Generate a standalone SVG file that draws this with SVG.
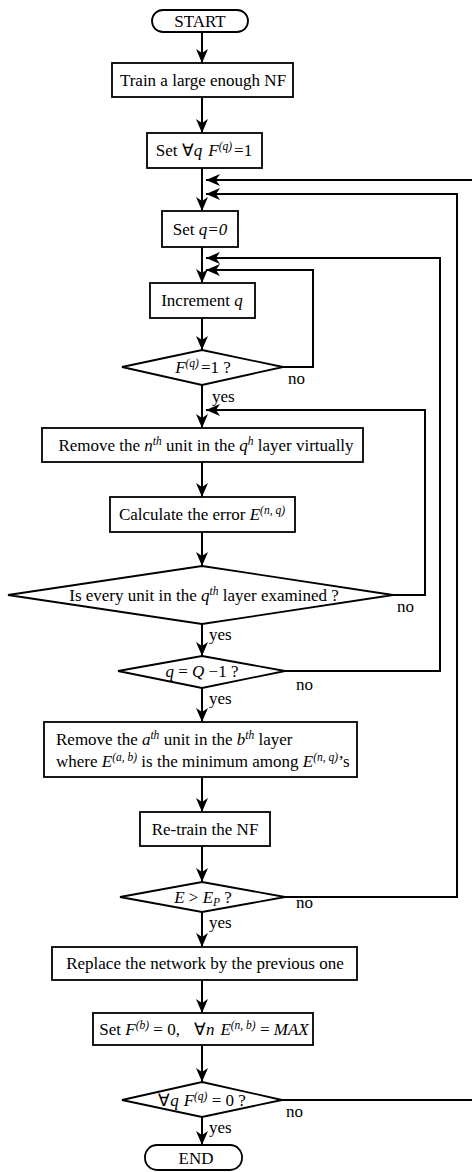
<svg xmlns="http://www.w3.org/2000/svg" width="472" height="1172" viewBox="0 0 472 1172">
<defs>
<marker id="ah" viewBox="0 0 14 12" refX="14" refY="6" markerWidth="14" markerHeight="12" markerUnits="userSpaceOnUse" orient="auto">
<path d="M0,0 L14,6 L0,12 L4,6 z" fill="#000"/>
</marker>
<style>
.box{fill:#fff;stroke:#000;stroke-width:1.8}
.t{font-family:"Liberation Serif","Times New Roman",serif;font-size:17px;fill:#000;text-anchor:middle}
.l{font-family:"Liberation Serif","Times New Roman",serif;font-size:17px;fill:#000}
.i{font-style:italic}
.s{font-size:11.5px;font-style:italic}
.c{fill:none;stroke:#000;stroke-width:2}
.a{fill:none;stroke:#000;stroke-width:2;marker-end:url(#ah)}
</style>
</defs>
<rect width="472" height="1172" fill="#fff"/>
<g id="connectors">
<line class="a" x1="202" y1="32" x2="202" y2="63"/>
<line class="a" x1="202" y1="97" x2="202" y2="133"/>
<line class="a" x1="202" y1="168" x2="202" y2="211"/>
<line class="a" x1="202" y1="247" x2="202" y2="283"/>
<line class="a" x1="202" y1="318" x2="202" y2="350"/>
<line class="a" x1="202" y1="385" x2="202" y2="428"/>
<line class="a" x1="202" y1="462" x2="202" y2="497"/>
<line class="a" x1="202" y1="532" x2="202" y2="566"/>
<line class="a" x1="202" y1="624" x2="202" y2="656"/>
<line class="a" x1="202" y1="688" x2="202" y2="722"/>
<line class="a" x1="202" y1="777" x2="202" y2="812"/>
<line class="a" x1="202" y1="846" x2="202" y2="882"/>
<line class="a" x1="202" y1="912" x2="202" y2="947"/>
<line class="a" x1="202" y1="980" x2="202" y2="1013"/>
<line class="a" x1="202" y1="1045" x2="202" y2="1082"/>
<line class="a" x1="202" y1="1117" x2="202" y2="1145"/>
<polyline class="a" points="283,367 313,367 313,270 206,270"/>
<polyline class="a" points="393,595 425,595 425,410 206,410"/>
<polyline class="a" points="285,671 440,671 440,258 206,258"/>
<polyline class="a" points="285,897 457,897 457,194 206,194"/>
<polyline class="a" points="282,1100 478,1100 478,180 206,180"/>
<text class="l" x="288" y="384">no</text>
<text class="l" x="212" y="402">yes</text>
<text class="l" x="397" y="612">no</text>
<text class="l" x="209" y="640">yes</text>
<text class="l" x="296" y="690">no</text>
<text class="l" x="209" y="704">yes</text>
<text class="l" x="296" y="908">no</text>
<text class="l" x="209" y="928">yes</text>
<text class="l" x="286" y="1117">no</text>
<text class="l" x="209" y="1133">yes</text>
</g>
<g id="start">
<rect class="box" x="152" y="10" width="96" height="22" rx="11"/>
<text class="t" x="200" y="27">START</text>
</g>
<g id="train">
<rect class="box" x="112" y="63" width="181" height="34"/>
<text class="t" x="203" y="86">Train a large enough NF</text>
</g>
<g id="setall">
<rect class="box" x="147" y="133" width="115" height="35"/>
<text class="t" x="204" y="156">Set ∀<tspan class="i">q</tspan><tspan class="i" dx="6">F</tspan><tspan class="s" dy="-6">(q)</tspan><tspan dy="6" dx="2">=1</tspan></text>
</g>
<g id="setq0">
<rect class="box" x="162" y="211" width="76" height="36"/>
<text class="t" x="200" y="235">Set <tspan class="i">q=0</tspan></text>
</g>
<g id="incq">
<rect class="box" x="150" y="283" width="105" height="35"/>
<text class="t" x="202" y="306">Increment <tspan class="i">q</tspan></text>
</g>
<g id="dq1">
<polygon class="box" points="202,350 283,367 202,385 122,367"/>
<text class="t" x="203" y="373"><tspan class="i">F</tspan><tspan class="s" dy="-6">(q)</tspan><tspan dy="6" dx="2">=1 ?</tspan></text>
</g>
<g id="removen">
<rect class="box" x="42" y="428" width="321" height="34"/>
<text class="t" x="206" y="451">Remove the <tspan class="i">n</tspan><tspan class="s" dy="-6">th</tspan><tspan dy="6"> unit in the </tspan><tspan class="i">q</tspan><tspan class="s" dy="-6">h</tspan><tspan dy="6"> layer virtually</tspan></text>
</g>
<g id="calc">
<rect class="box" x="110" y="497" width="185" height="35"/>
<text class="t" x="202" y="520">Calculate the error <tspan class="i">E</tspan><tspan class="s" dy="-6">(n, q)</tspan></text>
</g>
<g id="dexam">
<polygon class="box" points="202,566 393,595 202,624 8,595"/>
<text class="t" x="204" y="601">Is every unit in the <tspan class="i">q</tspan><tspan class="s" dy="-6">th</tspan><tspan dy="6"> layer examined ?</tspan></text>
</g>
<g id="dqQ">
<polygon class="box" points="202,656 285,671 202,688 118,671"/>
<text class="t" x="202" y="677"><tspan class="i">q</tspan> = <tspan class="i">Q</tspan> −1 ?</text>
</g>
<g id="removea">
<rect class="box" x="44" y="722" width="313" height="55"/>
<text class="l" x="56" y="745">Remove the <tspan class="i">a</tspan><tspan class="s" dy="-6">th</tspan><tspan dy="6"> unit in the </tspan><tspan class="i">b</tspan><tspan class="s" dy="-6">th</tspan><tspan dy="6"> layer</tspan></text>
<text class="l" x="56" y="767">where <tspan class="i">E</tspan><tspan class="s" dy="-6">(a, b)</tspan><tspan dy="6"> is the minimum among </tspan><tspan class="i">E</tspan><tspan class="s" dy="-6">(n, q)</tspan><tspan dy="6">’s</tspan></text>
</g>
<g id="retrain">
<rect class="box" x="140" y="812" width="130" height="34"/>
<text class="t" x="205" y="835">Re-train the NF</text>
</g>
<g id="dE">
<polygon class="box" points="202,882 285,897 202,912 120,897"/>
<text class="t" x="203" y="903"><tspan class="i">E</tspan> &gt; <tspan class="i">E</tspan><tspan class="s" dy="3">P</tspan><tspan dy="-3"> ?</tspan></text>
</g>
<g id="replace">
<rect class="box" x="52" y="947" width="305" height="33"/>
<text class="t" x="205" y="969">Replace the network by the previous one</text>
</g>
<g id="setfb">
<rect class="box" x="93" y="1013" width="220" height="32"/>
<text class="t" x="204" y="1035">Set <tspan class="i">F</tspan><tspan class="s" dy="-6">(b)</tspan><tspan dy="6"> = 0,</tspan><tspan dx="14">∀</tspan><tspan class="i">n</tspan><tspan class="i" dx="6">E</tspan><tspan class="s" dy="-6">(n, b)</tspan><tspan dy="6"> = </tspan><tspan class="i">MAX</tspan></text>
</g>
<g id="dall0">
<polygon class="box" points="202,1082 282,1100 202,1117 122,1100"/>
<text class="t" x="202" y="1106">∀<tspan class="i">q</tspan><tspan class="i" dx="5">F</tspan><tspan class="s" dy="-6">(q)</tspan><tspan dy="6"> = 0 ?</tspan></text>
</g>
<g id="end">
<rect class="box" x="145" y="1145" width="97" height="25" rx="12"/>
<text class="t" x="196" y="1164">END</text>
</g>
</svg>
